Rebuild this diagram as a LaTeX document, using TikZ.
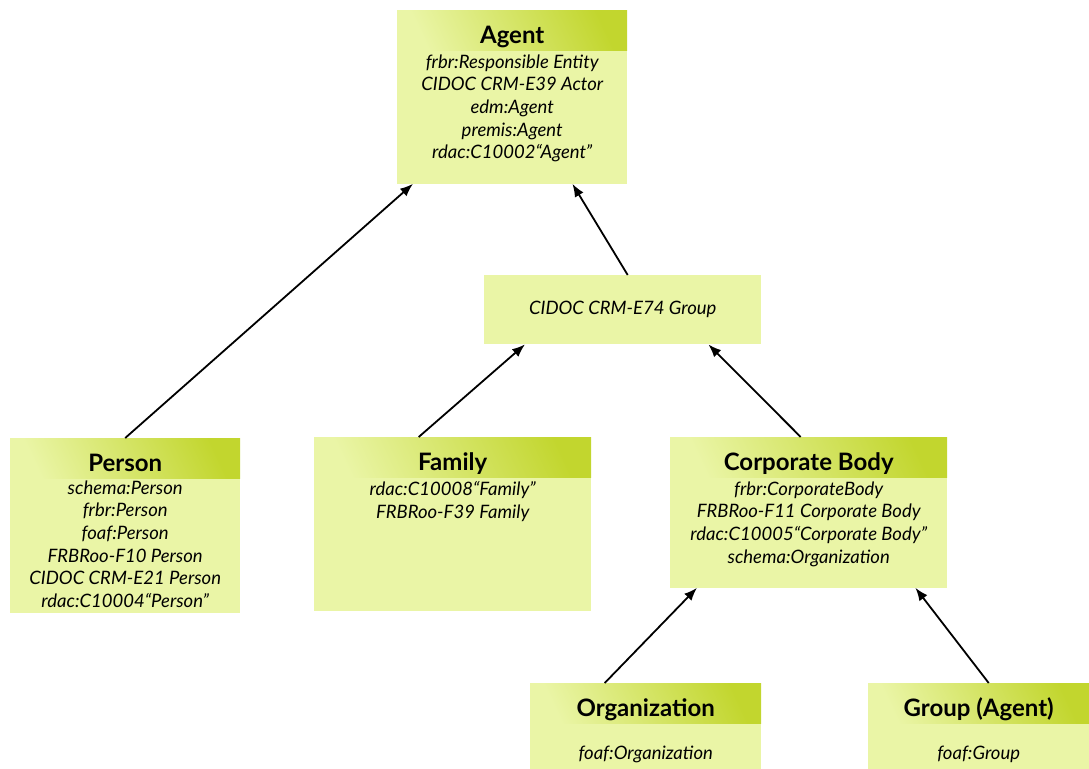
\documentclass[tikz,border=0pt]{standalone}
\usepackage{fontspec}
\setmainfont{Lato}
\usepackage{tikz}
\usetikzlibrary{arrows.meta}
\usetikzlibrary{positioning}
\definecolor{bodygreen}{RGB}{234,245,166}
\definecolor{headgreen}{RGB}{194,214,46}
\newcommand{\classlines}[4][4pt]{\parbox[t][#3][t]{#2}{\centering\vspace*{#1}#4}}
\tikzset{
    classhead/.style={left color=bodygreen, right color=headgreen, shading angle=115,
        inner sep=0pt, text height=33pt, text depth=7pt,
        font=\bfseries\fontsize{24}{28}\selectfont},
    classbody/.style={fill=bodygreen, inner sep=0pt,
        font=\itshape\fontsize{18.5}{22.6}\selectfont},
    isa/.style={draw=black, line width=1.8pt, -{Latex[length=13pt,width=10pt]}},
}

\begin{document}
\begin{tikzpicture}[x=1pt, y=-1pt]
		\useasboundingbox (0,0) rectangle (1089,768);
		% top class
		\node[classhead, anchor=north west, minimum width=230pt, minimum height=40pt] (agenthead) at (397,10) {Agent};
		\node[classbody, below=0pt of agenthead] (agent) {\classlines{230pt}{133pt}{frbr:Responsible Entity\\ CIDOC CRM-E39 Actor\\ edm:Agent\\ premis:Agent\\ rdac:C10002“Agent”}};
		%
		\node[classbody, anchor=north west, minimum width=277pt, minimum height=69pt] (e74) at (484,275) {CIDOC CRM-E74 Group};
		%
		\node[classhead, anchor=north west, minimum width=230pt, minimum height=40pt] (personhead) at (10,438) {Person};
		\node[classbody, below=0pt of personhead] (person) {\classlines[2pt]{230pt}{134pt}{schema:Person\\ frbr:Person\\ foaf:Person\\ FRBRoo-F10 Person\\ CIDOC CRM-E21 Person\\ rdac:C10004“Person”}};
		%
		\node[classhead, anchor=north west, minimum width=277pt, minimum height=40pt] (familyhead) at (314,437) {Family};
		\node[classbody, below=0pt of familyhead] (family) {\classlines{277pt}{133pt}{rdac:C10008“Family”\\ FRBRoo-F39 Family}};
		%
		\node[classhead, anchor=north west, minimum width=277pt, minimum height=40pt] (corphead) at (670,437) {Corporate Body};
		\node[classbody, below=0pt of corphead] (corpbody) {\classlines{277pt}{110pt}{frbr:CorporateBody\\ FRBRoo-F11 Corporate Body\\ rdac:C10005“Corporate Body”\\ schema:Organization}};
		%
		\node[classhead, anchor=north west, minimum width=231pt, minimum height=40pt] (orghead) at (530,683) {Organization};
		\node[classbody, below=0pt of orghead] (org) {\classlines[22pt]{231pt}{45pt}{foaf:Organization}};
		%
		\node[classhead, anchor=north west, minimum width=221pt, minimum height=40pt] (groupagenthead) at (868,683) {Group (Agent)};
		\node[classbody, below=0pt of groupagenthead] (groupagent) {\classlines[22pt]{221pt}{45pt}{foaf:Group}};
		% generalisation arrows
		\draw[isa] (personhead.north) -- ([xshift=16pt]agent.south west);
		\draw[isa] ([xshift=5pt]e74.north) -- ([xshift=-55pt]agent.south east);
		\draw[isa] ([xshift=-34pt]familyhead.north) -- ([xshift=41pt]e74.south west);
		\draw[isa] ([xshift=-8pt]corphead.north) -- ([xshift=-53pt]e74.south east);
		\draw[isa] ([xshift=-41pt]orghead.north) -- ([xshift=27pt]corpbody.south west);
		\draw[isa] ([xshift=10pt]groupagenthead.north) -- ([xshift=-32pt]corpbody.south east);
	\end{tikzpicture}
\end{document}
